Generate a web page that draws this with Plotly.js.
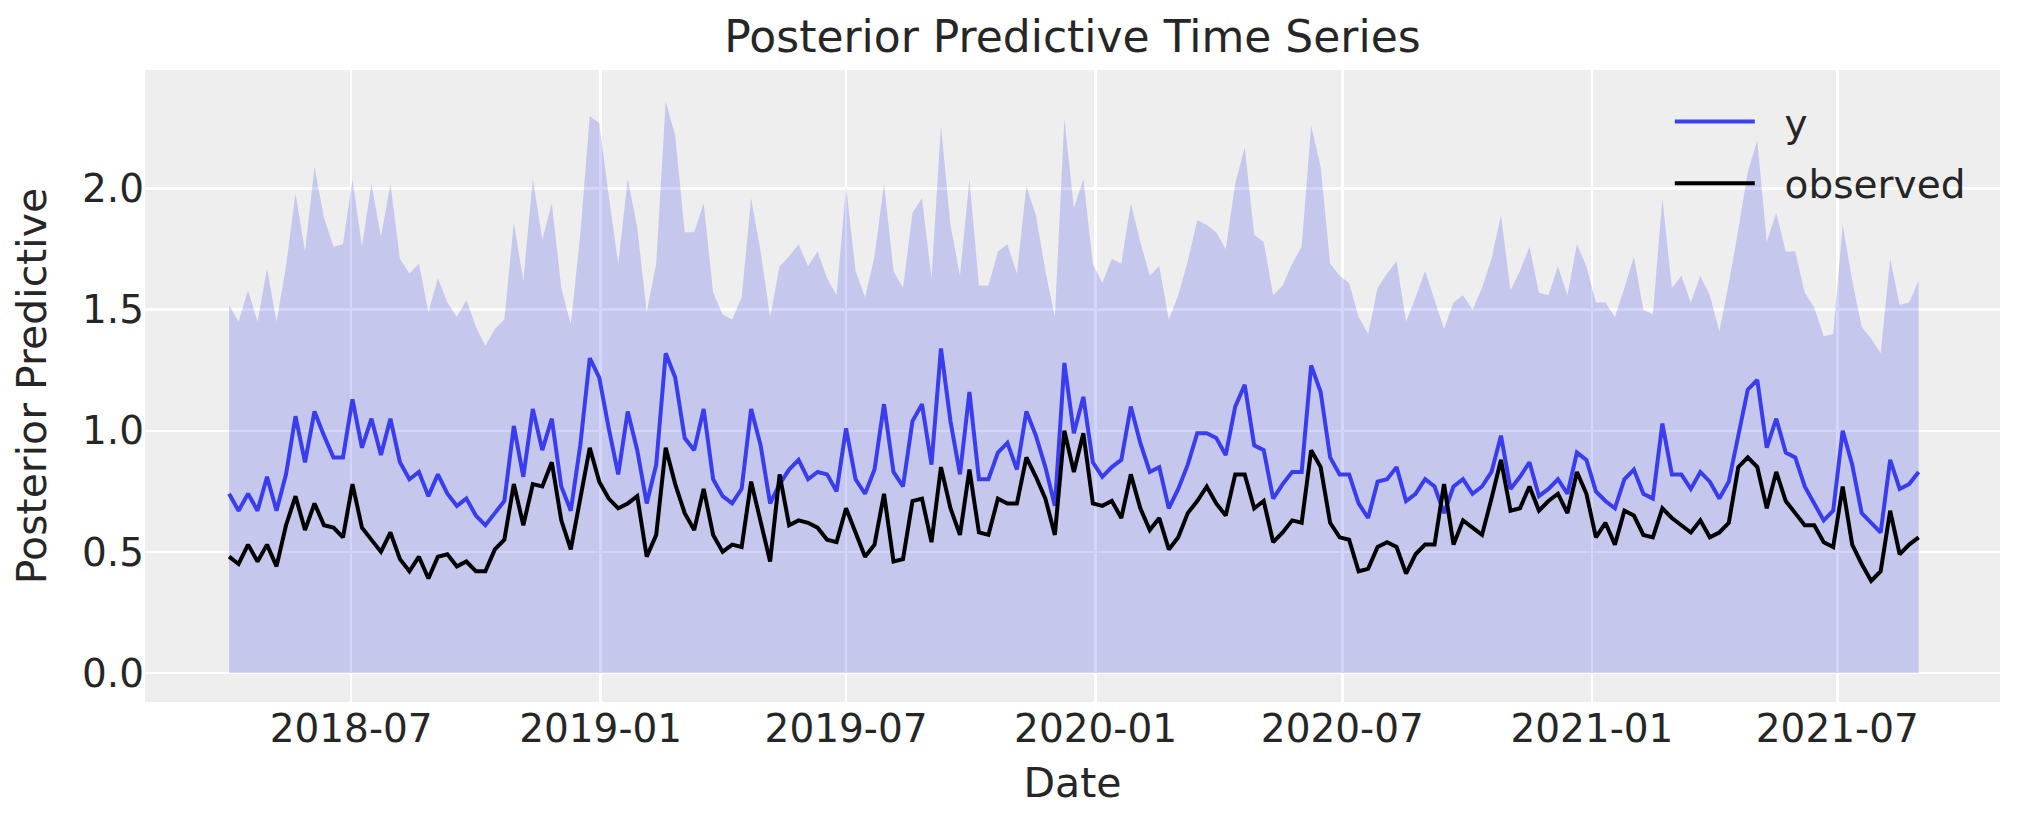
<!DOCTYPE html>
<html>
<head>
<meta charset="utf-8">
<script src="https://cdn.plot.ly/plotly-3.0.1.min.js"></script>
<style>
  html, body { margin: 0; padding: 0; background: #fff; }
  #chart { width: 2023px; height: 823px; }
</style>
</head>
<body>
<div id="chart"></div>
<script>
// weekly series, first week starts on a Monday
const startDate = "2018-04-02";
const nWeeks = 179;

// upper edge of the predictive band (lower edge sits at 0)
const bandUpper = [
  1.52, 1.45, 1.58, 1.45, 1.67, 1.45, 1.68, 1.98, 1.74, 2.09,
  1.88, 1.76, 1.77, 2.04, 1.76, 2.02, 1.80, 2.02, 1.71, 1.65,
  1.69, 1.49, 1.63, 1.53, 1.47, 1.54, 1.43, 1.35, 1.42, 1.46,
  1.86, 1.62, 2.04,
  1.79, 1.94, 1.59, 1.44, 1.81, 2.30, 2.27, 1.97, 1.69, 2.04,
  1.84, 1.49, 1.69, 2.36, 2.22, 1.82, 1.82, 1.94, 1.57, 1.48,
  1.46, 1.55, 1.96, 1.74, 1.47, 1.68, 1.72, 1.77, 1.68, 1.74,
  1.63, 1.56,
  2.01, 1.66, 1.55, 1.72, 2.02, 1.66, 1.59, 1.90, 1.96, 1.63,
  2.26, 1.85, 1.64, 2.04, 1.60, 1.60, 1.74, 1.77, 1.65, 2.01,
  1.89, 1.66, 1.47, 2.29, 1.92, 2.04, 1.69, 1.61, 1.71, 1.69,
  1.94, 1.78, 1.64,
  1.68, 1.46, 1.56, 1.70, 1.87, 1.85, 1.82, 1.75, 2.02, 2.17,
  1.81, 1.78, 1.56, 1.60, 1.69, 1.76, 2.26, 2.09, 1.69, 1.64,
  1.61, 1.47, 1.40, 1.59, 1.65, 1.70, 1.45, 1.55, 1.66, 1.54,
  1.42, 1.53, 1.56,
  1.50, 1.59, 1.71, 1.89, 1.58, 1.66, 1.76, 1.57, 1.56, 1.68,
  1.56, 1.77, 1.68, 1.53, 1.53, 1.47, 1.59, 1.72, 1.50, 1.48,
  1.96, 1.59, 1.64, 1.53, 1.64, 1.56, 1.41, 1.61, 1.83, 2.07,
  2.20, 1.78, 1.90,
  1.74, 1.74, 1.57, 1.51, 1.39, 1.40, 1.85, 1.62, 1.43, 1.38,
  1.32, 1.71, 1.52, 1.53, 1.62
];

// posterior predictive mean ("y")
const yMean = [
  0.74, 0.67, 0.74, 0.67, 0.81, 0.67, 0.82, 1.06, 0.87, 1.08,
  0.98, 0.89, 0.89, 1.13, 0.93, 1.05, 0.90, 1.05, 0.87, 0.80,
  0.83, 0.73, 0.82, 0.74, 0.69, 0.72, 0.65, 0.61, 0.66, 0.71,
  1.02, 0.81, 1.09,
  0.92, 1.05, 0.77, 0.67, 0.94, 1.30, 1.22, 1.01, 0.82, 1.08,
  0.92, 0.70, 0.86, 1.32, 1.22, 0.97, 0.92, 1.09, 0.80, 0.73,
  0.70, 0.76, 1.09, 0.94, 0.70, 0.78, 0.84, 0.88, 0.80, 0.83,
  0.82, 0.75,
  1.01, 0.80, 0.74, 0.84, 1.11, 0.83, 0.77, 1.04, 1.11, 0.86,
  1.34, 1.04, 0.82, 1.16, 0.80, 0.80, 0.91, 0.95, 0.84, 1.08,
  0.98, 0.85, 0.69, 1.28, 0.99, 1.14, 0.87, 0.81, 0.85, 0.88,
  1.10, 0.95, 0.83,
  0.85, 0.68, 0.76, 0.86, 0.99, 0.99, 0.97, 0.90, 1.10, 1.19,
  0.94, 0.92, 0.72, 0.78, 0.83, 0.83, 1.27, 1.16, 0.89, 0.82,
  0.82, 0.70, 0.64, 0.79, 0.80, 0.85, 0.71, 0.74, 0.80, 0.77,
  0.66, 0.77, 0.80,
  0.74, 0.77, 0.83, 0.98, 0.76, 0.81, 0.87, 0.73, 0.76, 0.80,
  0.74, 0.91, 0.88, 0.75, 0.71, 0.68, 0.80, 0.84, 0.74, 0.72,
  1.03, 0.82, 0.82, 0.76, 0.83, 0.79, 0.72, 0.79, 0.98, 1.17,
  1.21, 0.93, 1.05,
  0.91, 0.89, 0.77, 0.70, 0.63, 0.67, 1.00, 0.86, 0.66, 0.62,
  0.58, 0.88, 0.76, 0.78, 0.83
];

// observed values
const observed = [
  0.48, 0.45, 0.53, 0.46, 0.53, 0.44, 0.61, 0.73, 0.59, 0.70,
  0.61, 0.60, 0.56, 0.78, 0.60, 0.55, 0.50, 0.58, 0.47, 0.42,
  0.48, 0.39, 0.48, 0.49, 0.44, 0.46, 0.42, 0.42, 0.51, 0.55,
  0.78, 0.61, 0.78,
  0.77, 0.87, 0.63, 0.51, 0.72, 0.93, 0.79, 0.72, 0.68, 0.70,
  0.73, 0.48, 0.57, 0.93, 0.78, 0.66, 0.59, 0.76, 0.57, 0.50,
  0.53, 0.52, 0.79, 0.63, 0.46, 0.82, 0.61, 0.63, 0.62, 0.60,
  0.55, 0.54,
  0.68, 0.58, 0.48, 0.53, 0.74, 0.46, 0.47, 0.71, 0.72, 0.54,
  0.85, 0.68, 0.57, 0.84, 0.58, 0.57, 0.72, 0.70, 0.70, 0.89,
  0.81, 0.72, 0.57, 1.00, 0.83, 0.99, 0.70, 0.69, 0.71, 0.64,
  0.82, 0.68, 0.59,
  0.64, 0.51, 0.56, 0.66, 0.71, 0.77, 0.70, 0.65, 0.82, 0.82,
  0.68, 0.71, 0.54, 0.58, 0.63, 0.62, 0.92, 0.85, 0.62, 0.56,
  0.55, 0.42, 0.43, 0.52, 0.54, 0.52, 0.41, 0.49, 0.53, 0.53,
  0.78, 0.53, 0.63,
  0.60, 0.57, 0.72, 0.88, 0.67, 0.68, 0.77, 0.67, 0.71, 0.74,
  0.66, 0.83, 0.74, 0.56, 0.62, 0.53, 0.67, 0.65, 0.57, 0.56,
  0.68, 0.64, 0.61, 0.58, 0.63, 0.56, 0.58, 0.62, 0.85, 0.89,
  0.85, 0.68, 0.83,
  0.71, 0.66, 0.61, 0.61, 0.54, 0.52, 0.77, 0.53, 0.45, 0.38,
  0.42, 0.67, 0.49, 0.53, 0.56
];

const xTickVals = ["2018-07-01", "2019-01-01", "2019-07-01", "2020-01-01",
                   "2020-07-01", "2021-01-01", "2021-07-01"];
const xTickText = ["2018-07", "2019-01", "2019-07", "2020-01",
                   "2020-07", "2021-01", "2021-07"];
const yTickVals = [0, 0.5, 1.0, 1.5, 2.0];

// weekly dates
const dates = [];
const t0 = new Date(startDate + "T00:00:00Z");
for (let i = 0; i < nWeeks; i++) {
  const d = new Date(t0.getTime() + i * 7 * 86400000);
  dates.push(d.toISOString().slice(0, 10));
}

const font = "DejaVu Sans, sans-serif";
const textColor = "#262626";
// small gap between legend line and label
const pad = "\u00a0\u00a0";

const traces = [
  {
    x: dates, y: bandUpper, type: "scatter", mode: "lines",
    fill: "tozeroy", fillcolor: "rgba(42,46,236,0.2)",
    line: { width: 0, color: "rgba(42,46,236,0)" },
    showlegend: false, hoverinfo: "skip"
  },
  {
    x: dates, y: yMean, type: "scatter", mode: "lines", name: pad + "y",
    legendgroup: "a",
    line: { color: "rgba(42,46,236,0.9)", width: 4 }
  },
  {
    x: dates, y: observed, type: "scatter", mode: "lines", name: pad + "observed",
    legendgroup: "b",
    line: { color: "#000000", width: 4 }
  }
];

const layout = {
  width: 2023,
  height: 823,
  margin: { l: 145, r: 23, t: 70, b: 121 },
  paper_bgcolor: "#ffffff",
  plot_bgcolor: "#eeeeee",
  font: { family: font, color: textColor, size: 38 },
  title: {
    text: "Posterior Predictive Time Series",
    font: { family: font, size: 44, color: textColor },
    x: 0.5, xref: "paper", xanchor: "center",
    y: 1 - 37 / 823, yref: "container", yanchor: "middle"
  },
  xaxis: {
    type: "date",
    range: ["2018-01-30", "2021-10-29"],
    tickvals: xTickVals,
    ticktext: xTickText,
    showgrid: true, gridcolor: "#ffffff", gridwidth: 2.5,
    zeroline: false, showline: false, ticks: "",
    tickfont: { family: font, size: 39, color: textColor },
    title: { text: "Date", font: { family: font, size: 41, color: textColor }, standoff: 18 },
    automargin: true
  },
  yaxis: {
    range: [-0.12, 2.49],
    tickvals: yTickVals,
    tickformat: ".1f",
    showgrid: true, gridcolor: "#ffffff", gridwidth: 2.5,
    zeroline: false, showline: false, ticks: "",
    tickfont: { family: font, size: 39, color: textColor },
    title: { text: "Posterior Predictive", font: { family: font, size: 41, color: textColor }, standoff: 22 },
    automargin: true
  },
  legend: {
    x: 0.822, y: 0.969, xanchor: "left", yanchor: "top",
    bgcolor: "rgba(0,0,0,0)", borderwidth: 0,
    itemwidth: 80,
    traceorder: "grouped",
    tracegroupgap: 8,
    font: { family: font, size: 39, color: textColor }
  },
  showlegend: true
};

Plotly.newPlot("chart", traces, layout, { displayModeBar: false, staticPlot: true });
</script>
</body>
</html>
